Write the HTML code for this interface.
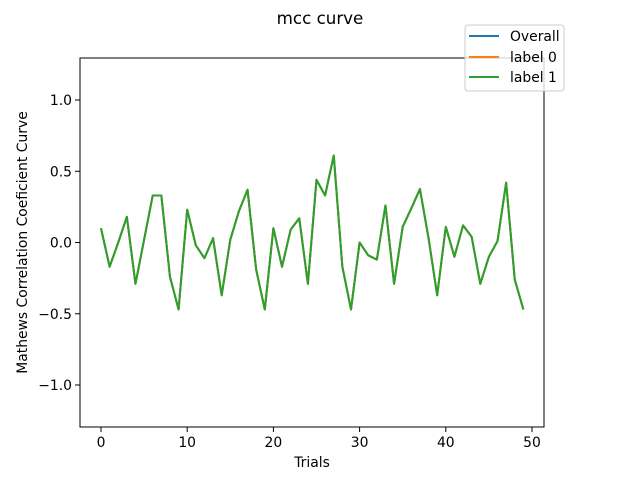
<!DOCTYPE html>
<html><head><meta charset="utf-8"><style>
body{margin:0;background:#fff}
svg{display:block;font-family:"DejaVu Sans","Liberation Sans",sans-serif}
</style></head><body>
<svg id="chart" width="640" height="480">
<rect x="0" y="0" width="640" height="480" fill="#fff"/>
<text x="320" y="24" text-anchor="middle" font-size="16.7">mcc curve</text>
<g id="plot"></g>
<rect x="80" y="58" width="464" height="369" fill="none" stroke="#000" stroke-width="1"/>
<text x="312" y="467" text-anchor="middle" font-size="13.9">Trials</text>
<text transform="translate(27,242.5) rotate(-90)" text-anchor="middle" font-size="13.9">Mathews Correlation Coeficient Curve</text>
<g>
<rect x="465" y="25" width="99" height="66" rx="3" fill="#fff" fill-opacity="0.8" stroke="#ccc"/>
<line x1="469" y1="36" x2="499" y2="36" stroke="#1f77b4" stroke-width="2"/>
<text x="510" y="41" font-size="13.9">Overall</text>
<line x1="469" y1="57" x2="499" y2="57" stroke="#ff7f0e" stroke-width="2"/>
<text x="510" y="62" font-size="13.9">label 0</text>
<line x1="469" y1="77" x2="499" y2="77" stroke="#2ca02c" stroke-width="2"/>
<text x="510" y="82" font-size="13.9">label 1</text>
</g>
</svg>
<script>
const xTicks=[0,10,20,30,40,50];
const yTicks=[-1.0,-0.5,0.0,0.5,1.0];
const yTickLabels=["−1.0","−0.5","0.0","0.5","1.0"];
const overall=[0.10,-0.17,0.0,0.18,-0.29,0.02,0.33,0.33,-0.24,-0.47,0.23,-0.02,-0.11,0.03,-0.37,0.02,0.22,0.37,-0.19,-0.47,0.10,-0.17,0.09,0.17,-0.29,0.44,0.33,0.61,-0.17,-0.47,0.0,-0.09,-0.12,0.26,-0.29,0.11,0.24,0.375,0.03,-0.37,0.11,-0.10,0.12,0.04,-0.29,-0.10,0.01,0.42,-0.26,-0.47];
const label0=[0.10,-0.17,0.0,0.18,-0.29,0.02,0.33,0.33,-0.24,-0.47,0.23,-0.02,-0.11,0.03,-0.37,0.02,0.22,0.37,-0.19,-0.47,0.10,-0.17,0.09,0.17,-0.29,0.44,0.33,0.61,-0.17,-0.47,0.0,-0.09,-0.12,0.26,-0.29,0.11,0.24,0.375,0.03,-0.37,0.11,-0.10,0.12,0.04,-0.29,-0.10,0.01,0.42,-0.26,-0.47];
const label1=[0.10,-0.17,0.0,0.18,-0.29,0.02,0.33,0.33,-0.24,-0.47,0.23,-0.02,-0.11,0.03,-0.37,0.02,0.22,0.37,-0.19,-0.47,0.10,-0.17,0.09,0.17,-0.29,0.44,0.33,0.61,-0.17,-0.47,0.0,-0.09,-0.12,0.26,-0.29,0.11,0.24,0.375,0.03,-0.37,0.11,-0.10,0.12,0.04,-0.29,-0.10,0.01,0.42,-0.26,-0.47];
const NS="http://www.w3.org/2000/svg";
const xs=v=>101+v*8.62;
const ys=v=>242.5-v*142.5;
const plot=document.getElementById('plot');
xTicks.forEach(t=>{
  const l=document.createElementNS(NS,'line');
  l.setAttribute('x1',xs(t));l.setAttribute('x2',xs(t));l.setAttribute('y1',427);l.setAttribute('y2',432);l.setAttribute('stroke','#000');
  
  
  plot.appendChild(l);
  const tx=document.createElementNS(NS,'text');
  tx.setAttribute('x',xs(t));tx.setAttribute('y',447);tx.setAttribute('text-anchor','middle');tx.setAttribute('font-size','13.9');
  tx.textContent=t;
  
  
  plot.appendChild(tx);
});
yTicks.forEach((t,i)=>{
  const l=document.createElementNS(NS,'line');
  l.setAttribute('x1',75);l.setAttribute('x2',80);l.setAttribute('y1',ys(t));l.setAttribute('y2',ys(t));l.setAttribute('stroke','#000');
  
  
  plot.appendChild(l);
  const tx=document.createElementNS(NS,'text');
  tx.setAttribute('x',72);tx.setAttribute('y',ys(t)+5);tx.setAttribute('text-anchor','end');tx.setAttribute('font-size','13.9');
  tx.textContent=yTickLabels[i];
  
  
  plot.appendChild(tx);
});
[[overall,'#1f77b4','overall-line'],[label0,'#ff7f0e','label-0-line'],[label1,'#2ca02c','label-1-line']].forEach(([d,c,n])=>{
  const p=document.createElementNS(NS,'polyline');
  p.setAttribute('points',d.map((v,i)=>xs(i)+','+ys(v)).join(' '));
  p.setAttribute('fill','none');p.setAttribute('stroke',c);p.setAttribute('stroke-width','2');p.setAttribute('stroke-linejoin','round');
  
  
  plot.appendChild(p);
});
</script>
</body></html>
